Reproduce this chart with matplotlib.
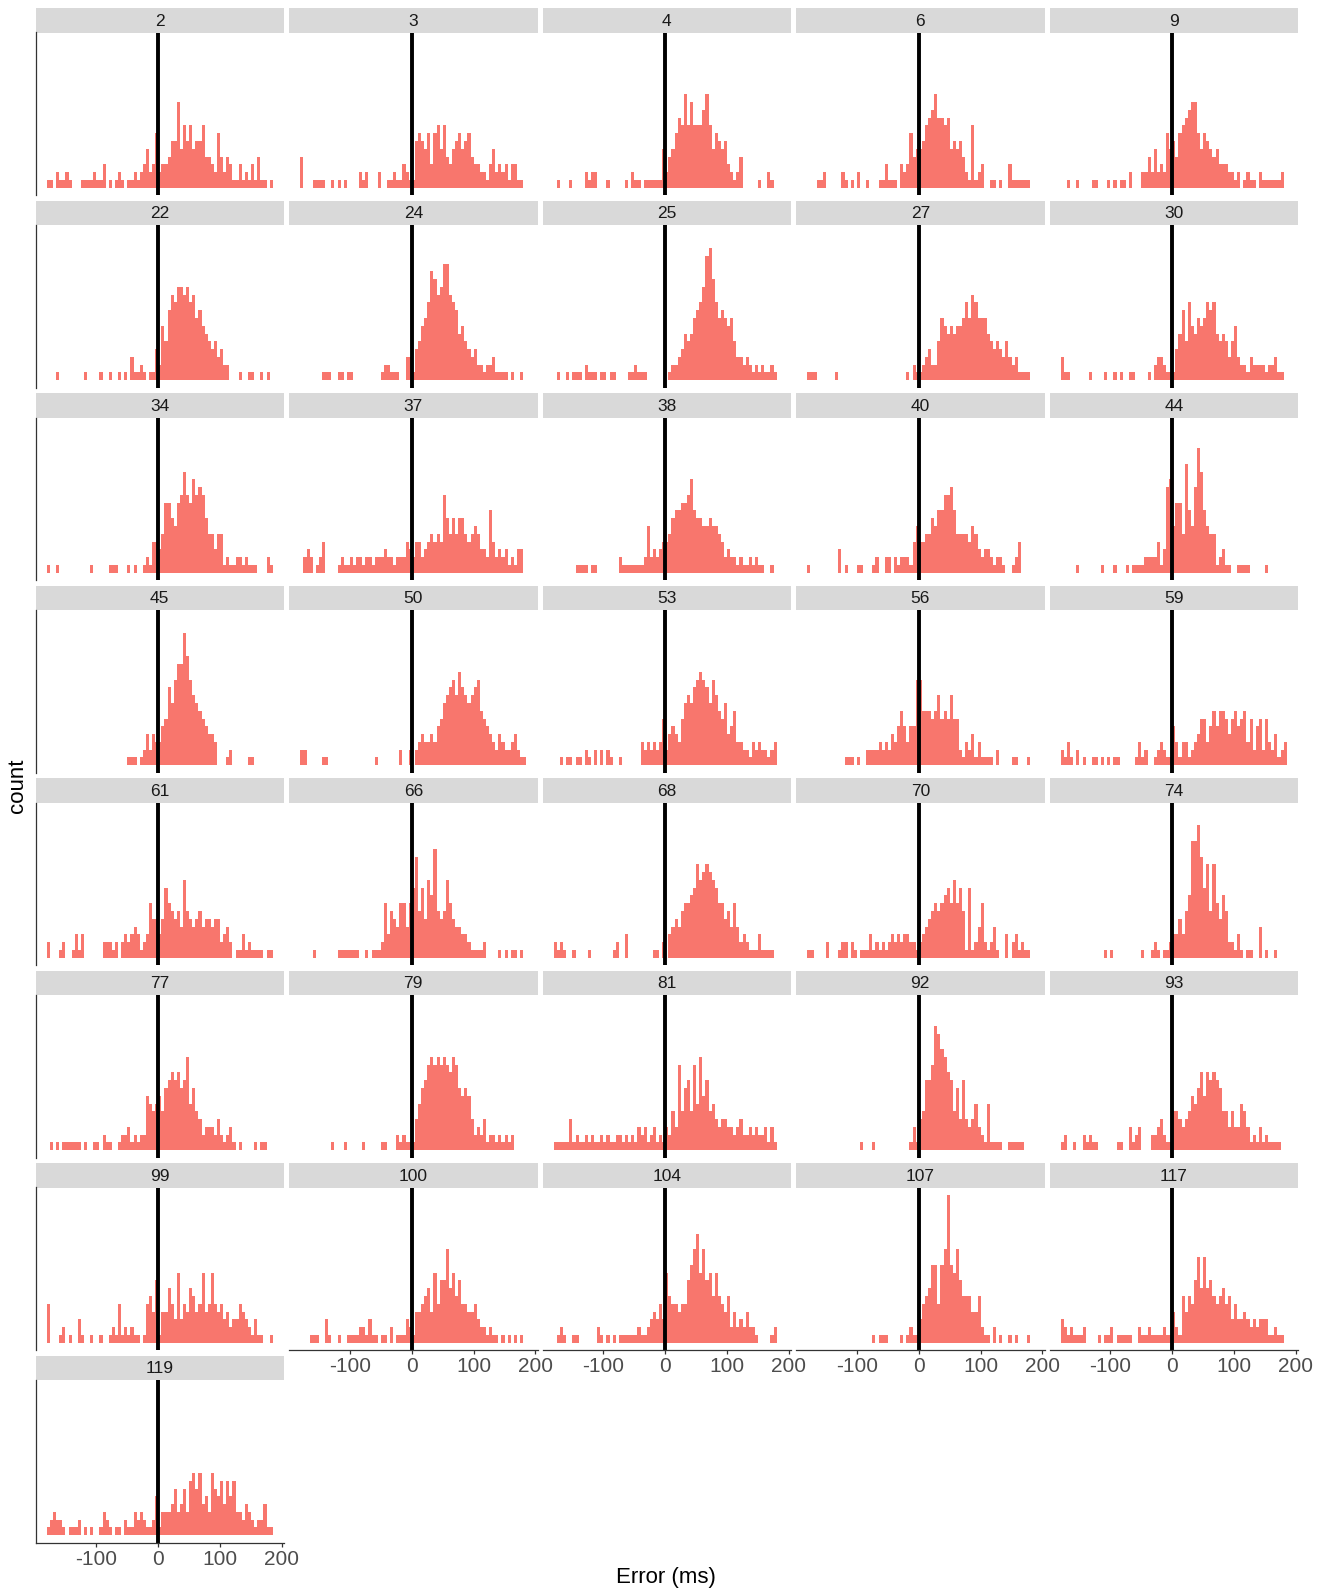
import numpy as np
import matplotlib
matplotlib.use('Agg')
import matplotlib.pyplot as plt

plt.rcParams['font.family'] = ['Liberation Sans', 'DejaVu Sans']

# 5 ms histogram bins from -180 to 185 ms
bin_edges = np.arange(-180, 186, 5)

# participant ids, one facet each
participants = [2, 3, 4, 6, 9, 22, 24, 25, 27, 30, 34, 37, 38, 40, 44, 45, 50, 53,
                56, 59, 61, 66, 68, 70, 74, 77, 79, 81, 92, 93, 99, 100, 104, 107, 117, 119]

# counts per bin for each participant
h2 = [1,1,0,2,1,1,2,1,0,0, 0,1,1,1,1,2,1,1,3,0, 1,0,1,2,1,0,1,1,2,1,
      2,3,5,2,3,7,2,3,3,4, 6,6,11,5,8,6,8,5,6,6, 8,4,4,3,2,7,4,2,4,3,
      1,1,3,1,2,1,3,1,4,1, 1,0,1]
h3 = [4,0,0,0,1,1,1,1,0,0, 1,0,1,0,1,0,0,0,0,2, 1,2,0,0,0,2,0,0,1,1,
      2,1,1,3,2,1,1,6,7,6, 5,7,3,7,8,5,8,4,3,5, 6,7,5,6,7,4,3,3,2,2,
      1,3,5,2,3,2,3,1,3,3, 1,1,0]
h4 = [0,1,0,0,0,1,0,0,0,0, 2,1,2,2,0,0,0,1,0,0, 0,0,0,1,0,2,1,1,0,1,
      1,1,1,1,1,5,2,4,5,7, 9,8,12,8,11,8,8,8,10,12, 8,5,7,6,5,6,3,2,1,2,
      4,0,0,0,0,0,1,0,0,2, 1,0,0]
h6 = [0,0,0,1,1,2,0,0,0,0, 0,2,1,0,1,0,2,0,0,1, 0,0,0,1,1,3,1,1,1,0,
      3,2,3,7,4,5,5,6,8,9, 10,12,9,9,8,9,5,6,5,6, 4,2,1,8,1,2,3,0,0,1,
      1,0,1,0,0,3,1,1,1,1, 1,1,0]
h9 = [0,0,1,0,0,1,0,0,0,0, 1,1,0,0,0,1,0,1,0,1, 1,0,2,0,0,0,2,2,4,2,
      5,2,3,2,7,5,6,4,7,8, 9,10,11,11,7,5,7,6,5,4, 5,3,3,3,2,2,1,2,0,1,
      2,1,1,0,2,1,1,1,1,1, 1,2,0]
h22 = [0,0,0,1,0,0,0,0,0,0, 0,0,1,0,0,0,0,1,0,0, 1,0,0,1,0,1,0,3,1,1,
       2,1,0,1,1,4,2,7,5,9, 11,10,12,12,11,12,10,11,8,9, 7,6,5,4,5,3,4,2,2,0,
       0,0,1,0,0,1,1,0,0,1, 0,1,0]
h24 = [0,0,0,0,0,0,0,1,1,1, 0,0,1,1,0,1,1,0,0,0, 0,0,0,0,0,0,1,2,2,1,
       1,1,0,0,3,3,1,4,5,7, 8,10,14,13,11,12,15,15,11,10, 9,6,7,5,4,3,4,2,2,1,
       2,2,3,1,1,1,1,0,1,0, 0,1,0]
h25 = [0,1,0,0,1,0,1,1,1,0, 2,1,1,1,0,1,1,0,1,1, 0,0,0,0,1,1,2,1,1,1,
       0,0,0,0,0,0,0,1,2,2, 3,4,6,5,6,8,9,10,12,16, 17,13,10,8,9,8,7,8,5,3,
       3,2,3,2,1,2,1,2,1,1, 2,1,0]
h27 = [1,1,1,0,0,0,0,0,0,1, 0,0,0,0,0,0,0,0,0,0, 0,0,0,0,0,0,0,0,0,0,
       0,0,1,0,2,1,1,2,3,4, 2,2,5,8,7,6,7,6,7,7, 8,10,8,11,10,8,8,8,6,5,
       4,5,4,3,5,3,2,3,1,1, 1,1,0]
h30 = [3,1,1,0,0,0,0,0,0,1, 0,0,0,0,1,0,0,1,0,1, 0,0,1,1,0,0,0,0,1,0,
       2,3,3,2,1,1,1,4,6,9, 5,10,7,6,8,7,8,10,9,10, 6,5,6,5,3,5,7,3,2,2,
       1,3,2,2,2,2,1,2,2,3, 1,1,0]
h34 = [1,0,0,1,0,0,0,0,0,0, 0,0,0,0,1,0,0,0,0,0, 1,1,1,0,0,0,1,0,1,0,
       0,1,2,1,4,4,3,5,9,9, 7,6,9,10,13,10,9,12,10,11, 10,7,5,5,3,5,5,1,2,1,
       1,2,2,1,2,1,1,1,0,0, 0,2,1]
h37 = [0,2,3,2,0,1,2,4,0,0, 0,0,1,2,1,1,2,1,2,2, 1,2,2,1,2,2,2,3,2,2,
       1,2,2,2,4,3,2,4,4,2, 3,4,5,4,5,4,10,7,5,7, 5,7,7,5,4,5,6,5,3,3,
       2,8,4,2,3,2,3,1,2,1, 3,3,0]
h38 = [0,0,0,0,0,0,0,1,1,1, 1,0,1,1,0,0,0,0,0,0, 0,2,1,1,1,1,1,1,1,2,
       6,2,3,2,3,4,4,5,7,8, 8,9,9,10,12,8,7,7,6,6, 7,6,6,5,4,2,3,2,2,1,
       2,1,1,2,1,2,1,1,0,0, 1,0,0]
h40 = [1,0,0,0,0,0,0,0,0,0, 3,0,1,0,0,0,1,1,0,0, 0,1,2,0,0,2,2,0,2,1,
       2,2,2,1,4,6,4,4,5,5, 7,6,8,8,10,10,11,8,5,5, 5,5,4,6,5,3,2,3,3,2,
       1,2,2,1,0,0,1,2,4,0, 0,0,0]
h44 = [0,0,0,0,0,1,0,0,0,0, 0,0,0,1,0,0,0,1,0,0, 0,1,0,1,1,1,1,2,2,2,
       2,4,1,3,11,12,6,9,9,5, 14,8,6,11,16,13,8,6,5,5, 1,2,3,1,1,0,0,1,1,1,
       1,0,0,0,0,0,1,0,0,0, 0,0,0]
h45 = [0,0,0,0,0,0,0,0,0,0, 0,0,0,0,0,0,0,0,0,0, 0,0,0,0,0,0,1,1,1,0,
       1,2,4,2,4,3,3,5,6,10, 8,11,13,13,17,14,11,9,8,7, 6,5,4,4,3,0,0,0,1,2,
       0,0,0,0,0,1,1,0,0,0, 0,0,0]
h50 = [2,2,0,0,0,0,0,1,1,0, 0,0,0,0,0,0,0,0,0,0, 0,0,0,0,1,0,0,0,0,0,
       0,0,2,0,0,2,0,2,3,4, 3,3,4,3,5,6,8,9,10,11, 9,12,10,9,8,9,10,11,7,6,
       5,4,3,2,4,3,2,2,3,4, 2,1,1]
h53 = [0,0,1,0,1,1,0,1,1,0, 2,1,0,2,0,2,0,2,1,0, 0,1,0,0,0,0,0,0,3,2,
       3,2,3,2,3,6,2,4,5,4, 3,6,8,9,8,10,11,12,11,10, 8,11,9,7,6,8,4,5,7,3,
       3,2,2,1,3,2,3,2,2,1, 2,3,0]
h56 = [0,0,0,0,0,0,0,0,0,0, 0,0,1,1,1,0,1,0,0,2, 2,2,2,3,2,3,2,4,3,5,
       7,5,3,5,5,11,11,7,7,7, 6,7,9,6,7,6,9,6,6,2, 1,3,2,4,1,3,1,1,1,1,
       0,2,0,0,0,0,1,1,0,0, 0,1,0]
h59 = [2,1,3,1,0,2,0,1,0,0, 1,1,0,1,0,1,0,1,1,0, 0,0,0,0,1,3,1,2,0,0,
       1,2,3,2,1,1,5,3,1,3, 3,1,2,3,4,6,6,3,5,7, 5,7,7,6,4,6,7,5,6,7,
       3,6,2,5,6,2,6,3,2,4, 1,2,3]
h61 = [2,0,0,0,1,2,0,0,1,3, 1,3,0,0,0,0,0,0,2,2, 2,1,2,0,2,3,2,3,4,3,
       1,2,3,7,5,5,3,5,9,7, 6,5,6,4,10,6,5,4,5,6, 4,5,5,4,5,5,2,3,4,2,
       0,1,1,3,1,2,1,1,1,1, 0,1,1]
h66 = [0,0,0,0,1,0,0,0,0,0, 0,0,1,1,1,1,1,1,1,0, 0,1,0,1,1,1,2,7,3,6,
       5,4,7,7,4,7,9,13,6,9, 5,10,8,14,6,5,6,10,7,5, 4,4,3,3,2,1,1,1,1,2,
       0,0,0,0,1,0,1,0,1,1, 0,1,0]
h68 = [2,1,2,1,0,0,1,0,0,0, 0,1,0,0,0,0,0,0,0,1, 2,0,0,3,0,0,0,0,0,0,
       0,0,1,1,0,2,0,3,4,5, 4,6,7,7,8,9,12,10,11,12, 11,10,9,7,7,5,6,4,7,4,
       2,3,2,1,1,1,3,1,1,1, 1,0,0]
h70 = [1,1,0,0,0,0,2,0,0,0, 1,2,2,0,2,1,0,1,1,1, 3,1,2,1,2,1,2,3,2,3,
       2,3,3,2,2,1,2,3,4,5, 6,7,6,7,8,9,7,10,7,9, 6,1,9,1,2,4,7,2,1,2,
       4,1,0,0,3,0,2,3,1,2, 1,1,0]
h74 = [0,0,0,0,0,0,0,0,0,0, 0,0,0,0,1,0,1,0,0,0, 0,0,0,0,0,0,1,0,0,1,
       2,1,0,1,1,2,3,3,5,3, 6,8,15,15,17,13,9,12,6,12, 7,5,8,6,2,2,1,3,1,0,
       1,1,0,0,4,0,1,0,0,1, 0,0,0]
h77 = [0,1,0,1,0,1,1,1,1,1, 1,0,1,0,0,1,1,0,2,1, 1,0,0,1,2,2,3,1,2,1,
       2,2,7,6,5,6,7,5,8,9, 10,9,10,8,9,12,6,8,5,4, 2,3,3,3,2,4,2,1,2,3,
       1,0,1,0,0,0,0,1,0,1, 1,0,0]
h79 = [0,0,0,0,0,0,0,0,0,0, 1,0,0,0,1,0,0,0,0,0, 1,0,0,0,0,0,1,1,0,0,
       0,2,1,2,1,1,1,4,6,8, 9,11,12,11,12,11,12,11,10,12, 11,8,7,8,7,4,2,3,2,4,
       1,2,2,1,2,1,2,1,2,0, 0,0,0]
h81 = [1,1,1,1,1,4,1,2,1,1, 2,1,2,1,1,2,1,2,1,1, 2,2,1,2,1,2,1,3,2,3,
       1,2,3,1,2,1,3,2,5,3, 11,5,8,9,5,11,6,12,7,9, 5,6,4,3,4,4,3,3,2,3,
       4,2,2,3,2,3,2,2,3,1, 3,1,0]
h92 = [0,0,0,0,0,0,0,0,0,0, 0,0,0,0,0,0,0,1,0,0, 0,1,0,0,0,0,0,0,0,0,
       0,0,0,1,3,1,4,5,9,9, 11,16,15,13,12,10,9,5,8,4, 9,4,3,4,6,3,2,1,6,1,
       1,1,1,0,0,1,1,1,1,1, 0,0,0]
h93 = [1,2,0,0,1,0,0,2,1,2, 1,1,0,0,0,0,0,0,1,1, 0,0,3,1,2,3,0,0,0,2,
       2,3,4,2,1,1,5,5,4,3, 4,5,7,6,8,10,7,10,9,10, 9,8,5,5,3,5,3,3,6,5,
       3,1,2,1,3,1,2,1,1,1, 1,0,0]
h99 = [5,0,0,0,1,2,0,1,0,0, 3,1,0,0,1,0,0,1,0,0, 1,2,1,5,1,2,1,2,1,1,
       0,1,5,6,4,8,1,4,4,7, 5,3,9,3,5,4,7,6,4,5, 9,4,5,9,5,4,5,3,4,2,
       3,3,5,4,3,2,1,3,1,1, 0,0,1]
h100 = [0,0,0,1,1,1,0,0,3,1, 0,0,1,0,0,1,1,1,1,2, 2,1,3,1,1,0,1,1,0,2,
        0,1,1,1,3,2,1,4,4,5, 6,7,4,9,5,8,8,12,7,9, 6,8,5,5,4,4,5,3,2,2,
        1,2,1,1,0,1,0,1,0,1, 0,1,0]
h104 = [0,1,2,1,0,0,1,1,0,0, 0,0,0,0,2,1,0,1,0,1, 0,1,1,1,1,1,1,2,1,1,
        2,3,4,3,5,3,9,6,5,5, 4,5,5,8,10,12,14,9,12,8, 9,6,9,6,5,4,6,2,4,2,
        3,2,4,2,2,1,0,0,0,0, 1,2,0]
h107 = [0,0,0,0,0,0,0,0,0,0, 0,0,0,0,0,0,0,0,0,0, 0,1,0,1,1,1,0,0,0,0,
        1,0,1,2,1,1,3,5,6,7, 10,10,5,10,12,19,10,9,12,8, 6,6,6,4,4,6,2,1,1,0,
        2,0,1,0,0,1,0,1,0,0, 0,1,0]
h117 = [3,2,1,2,1,1,1,2,0,0, 0,0,1,0,1,1,2,0,1,1, 1,1,1,0,0,2,1,1,2,1,
        1,1,1,2,1,1,4,2,1,6, 4,6,5,8,11,7,11,7,8,6, 5,6,7,5,6,3,5,3,3,4,
        3,2,3,2,3,3,3,1,1,2, 1,1,0]
h119 = [1,2,3,2,2,1,0,1,1,1, 2,0,1,0,1,0,0,1,3,2, 1,0,1,1,0,2,1,1,3,2,
        3,2,1,1,2,5,1,3,3,3, 4,6,3,4,6,3,7,8,6,8, 4,5,3,8,6,5,7,4,7,5,
        7,3,3,2,4,3,2,1,2,2, 4,1,1]

hist_counts = [h2, h3, h4, h6, h9, h22, h24, h25, h27, h30, h34, h37, h38, h40, h44,
               h45, h50, h53, h56, h59, h61, h66, h68, h70, h74, h77, h79, h81, h92,
               h93, h99, h100, h104, h107, h117, h119]
assert all(len(c) == len(bin_edges) - 1 for c in hist_counts)

# figure layout in pixels
W, H = 1322, 1593
n_cols = 5
col_x0, col_step, panel_w = 35.6, 253.5, 248.4
row_y0, row_step = 8.1, 192.5
strip_h, panel_h = 24.4, 162.6

bar_color = '#F8766D'
axis_color = '#333333'

# ggplot-style 5% expansion on both scales
span = bin_edges[-1] - bin_edges[0]
xlim = (bin_edges[0] - 0.05 * span, bin_edges[-1] + 0.05 * span)
ymax = max(max(c) for c in hist_counts)
ylim = (-0.05 * ymax, 1.05 * ymax)


def fig_box(left, top, width, height):
    return [left / W, 1 - (top + height) / H, width / W, height / H]


fig = plt.figure(figsize=(W / 100, H / 100), dpi=100)

for k, (pid, counts) in enumerate(zip(participants, hist_counts)):
    row, col = divmod(k, n_cols)
    left = col_x0 + col * col_step
    top = row_y0 + row * row_step

    # facet strip
    strip = fig.add_axes(fig_box(left, top, panel_w, strip_h))
    strip.set_facecolor('#D9D9D9')
    strip.set_xticks([])
    strip.set_yticks([])
    for s in strip.spines.values():
        s.set_visible(False)
    strip.text(0.5, 0.47, str(pid), ha='center', va='center', fontsize=12.5,
               color='#1A1A1A', transform=strip.transAxes)

    # histogram panel
    ax = fig.add_axes(fig_box(left, top + strip_h, panel_w, panel_h))
    ax.bar(bin_edges[:-1], counts, width=5, align='edge', color=bar_color, linewidth=0)
    ax.axvline(0, color='black', lw=2.8)
    ax.set_xlim(xlim)
    ax.set_ylim(ylim)
    ax.spines['top'].set_visible(False)
    ax.spines['right'].set_visible(False)
    ax.spines['left'].set_visible(col == 0)
    ax.spines['left'].set_color(axis_color)
    ax.spines['left'].set_linewidth(0.9)
    ax.set_yticks([])

    if k + n_cols >= len(participants):
        ax.spines['bottom'].set_color(axis_color)
        ax.spines['bottom'].set_linewidth(0.9)
        ax.set_xticks([-100, 0, 100, 200])
        ax.set_xticklabels(['-100', '0', '100', '200'])
        ax.tick_params(axis='x', length=3, width=0.9, color=axis_color,
                       labelsize=15, labelcolor='#4D4D4D', pad=2)
    else:
        ax.spines['bottom'].set_visible(False)
        ax.set_xticks([])

fig.text(666 / W, 1 - 1578 / H, 'Error (ms)', ha='center', va='center', fontsize=16)
fig.text(18 / W, 1 - 786 / H, 'count', ha='center', va='center', rotation=90, fontsize=16)

fig.savefig('out.png', dpi=100)
